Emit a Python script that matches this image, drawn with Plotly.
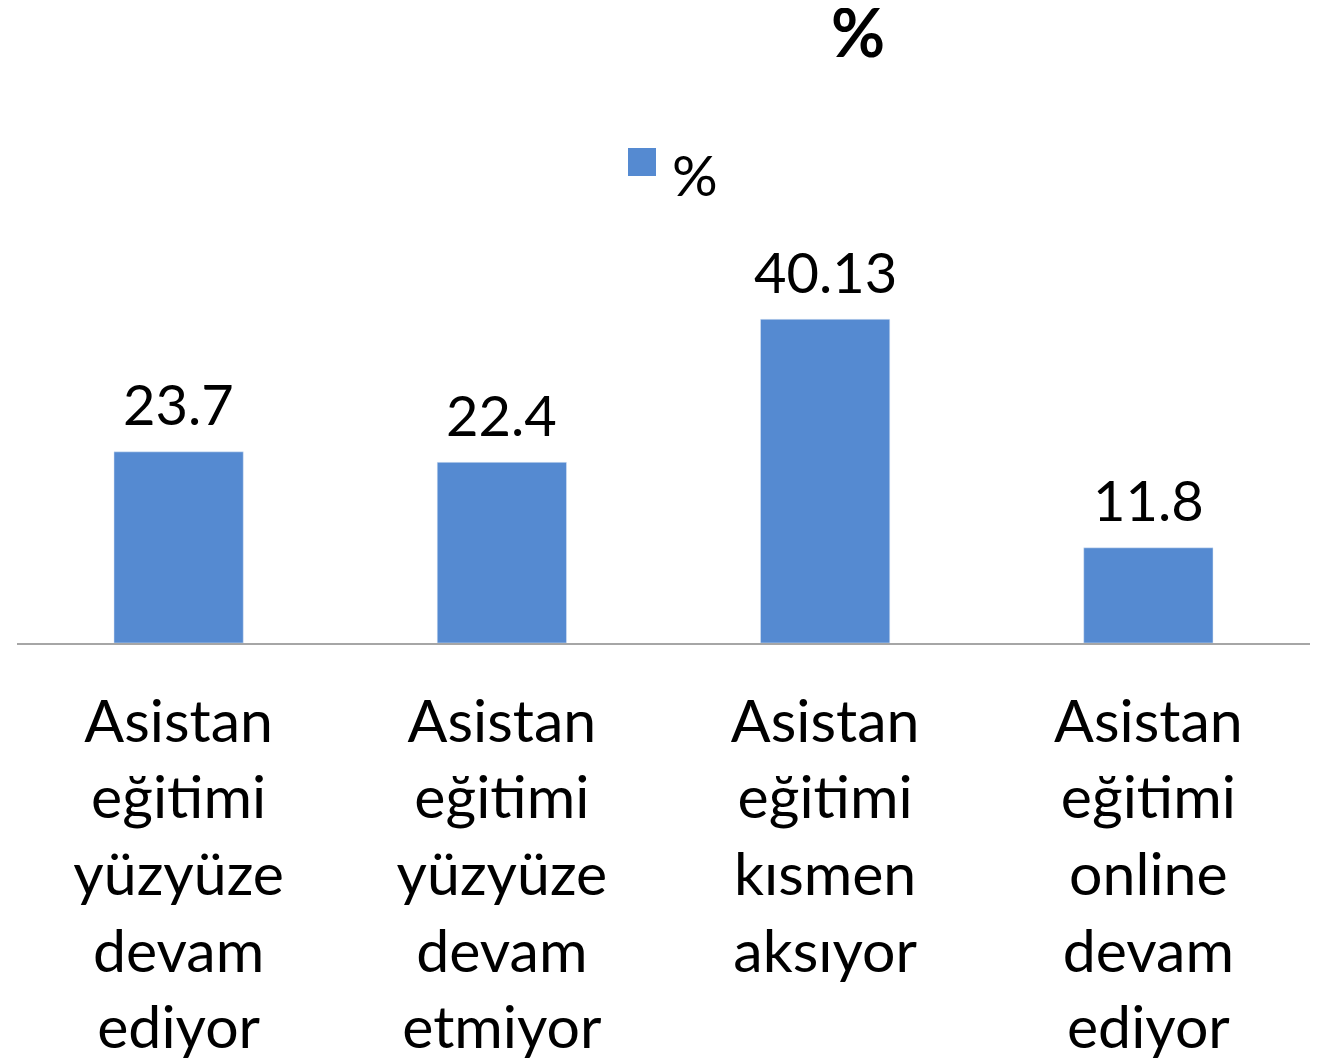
import plotly.graph_objects as go

categories = [
    "Asistan<br>eğitimi<br>yüzyüze<br>devam<br>ediyor",
    "Asistan<br>eğitimi<br>yüzyüze<br>devam<br>etmiyor",
    "Asistan<br>eğitimi<br>kısmen<br>aksıyor",
    "Asistan<br>eğitimi<br>online<br>devam<br>ediyor",
]
values = [23.7, 22.4, 40.13, 11.8]
value_labels = ["23.7", "22.4", "40.13", "11.8"]
series_name = "%"
title_text = "%"

FONT = "Lato, Open Sans, sans-serif"
BAR_COLOR = "#558ad1"

W, H = 1322, 1061
L, R, T, B = 9, 20, 272, 426
PW, PH = W - L - R, H - T - B


def px_x(xfig):
    return (xfig - L) / PW


def px_y(yfig):
    return (H - B - yfig) / PH


fig = go.Figure()
fig.add_trace(go.Bar(
    x=categories, y=values, name=series_name,
    marker_color=BAR_COLOR,
    cliponaxis=False,
    showlegend=False,
))

for c, v, t in zip(categories, values, value_labels):
    fig.add_annotation(x=c, y=v, text=t, showarrow=False,
                       yanchor="middle", yshift=48,
                       font=dict(size=56, color="black", family=FONT))

# legend drawn manually (large square key)
fig.add_shape(type="rect", xref="paper", yref="paper",
              x0=px_x(620), x1=px_x(648), y0=px_y(168), y1=px_y(140),
              fillcolor=BAR_COLOR, line=dict(width=0))
fig.add_annotation(xref="paper", yref="paper", x=px_x(662), y=px_y(166),
                   xanchor="left", yanchor="middle", showarrow=False,
                   text=series_name,
                   font=dict(size=57, color="black", family=FONT))

fig.update_layout(
    width=W, height=H,
    margin=dict(l=L, r=R, t=T, b=B),
    paper_bgcolor="white", plot_bgcolor="white",
    bargap=0.6,
    title=dict(text="<b>" + title_text + "</b>", x=850 / W, xref="container",
               xanchor="center", y=1 - 26 / H, yref="container",
               yanchor="middle",
               font=dict(size=66, color="black", family=FONT)),
    xaxis=dict(showline=True, linecolor="#a6a6a6", linewidth=1.5,
               tickfont=dict(size=59, color="black", family=FONT),
               ticks="", ticklabelstandoff=26),
    yaxis=dict(range=[0, 45], visible=False, showgrid=False),
    showlegend=False,
)

fig.write_html("out.html")
